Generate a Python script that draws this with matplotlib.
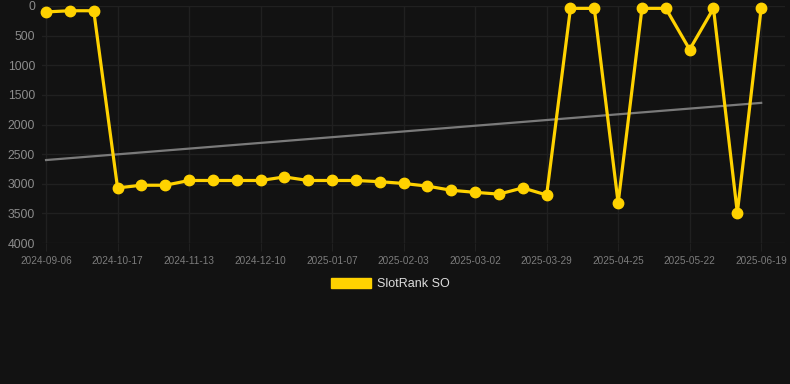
import numpy as np
import matplotlib
matplotlib.use("Agg")
import matplotlib.pyplot as plt
from matplotlib.patches import Patch

# weekly rank values (lower = better, axis inverted)
rank = [100, 80, 80, 3070, 3025, 3025, 2945, 2945, 2945, 2945,
        2885, 2945, 2945, 2945, 2965, 2995, 3040, 3110, 3145, 3175,
        3070, 3190, 40, 40, 3325, 40, 40, 735, 40, 3490, 40]
tick_labels = ['2024-09-06', '2024-10-17', '2024-11-13', '2024-12-10',
               '2025-01-07', '2025-02-03', '2025-03-02', '2025-03-29',
               '2025-04-25', '2025-05-22', '2025-06-19']
trend = [2600, 1635]  # start / end of trend line

bg = '#121212'
yellow = '#FFD200'
grid_c = '#202020'

W, H = 790, 384
fig = plt.figure(figsize=(W / 100, H / 100), dpi=100, facecolor=bg)
plt.rcParams['font.family'] = ['Liberation Sans', 'DejaVu Sans']

ax = fig.add_axes([42 / W, 1 - 243 / H, (785 - 42) / W, (243 - 6) / H])
ax.set_facecolor(bg)

x = np.arange(len(rank))
ax.plot([x[0], x[-1]], trend, color='#7a7a7a', lw=1.6, zorder=2)
ax.plot(x, rank, color=yellow, lw=2.3, marker='o', ms=7.5,
        zorder=3, clip_on=False)

ax.set_ylim(4000, 0)
ax.set_xlim(-0.17, 31.0)
ax.set_yticks(np.arange(0, 4001, 500))
ax.set_xticks(x[::3])
ax.set_xticklabels(tick_labels)

for s in ax.spines.values():
    s.set_visible(False)
ax.grid(True, color=grid_c, lw=1.0)
ax.set_axisbelow(True)
ax.tick_params(axis='y', length=0, pad=5, labelsize=8.8, labelcolor='#8c8c8c')
ax.tick_params(axis='x', length=6, color=grid_c, pad=3, labelsize=7.2,
               labelcolor='#7c7c7c')

fig.legend(handles=[Patch(facecolor=yellow, edgecolor=yellow)],
           labels=['SlotRank SO'], loc='center',
           bbox_to_anchor=(390 / W, 1 - 284 / H), frameon=False,
           fontsize=9, labelcolor='#dddddd', handlelength=3.2,
           handleheight=0.9, handletextpad=0.5)

fig.savefig('out.png', dpi=100, facecolor=bg)
